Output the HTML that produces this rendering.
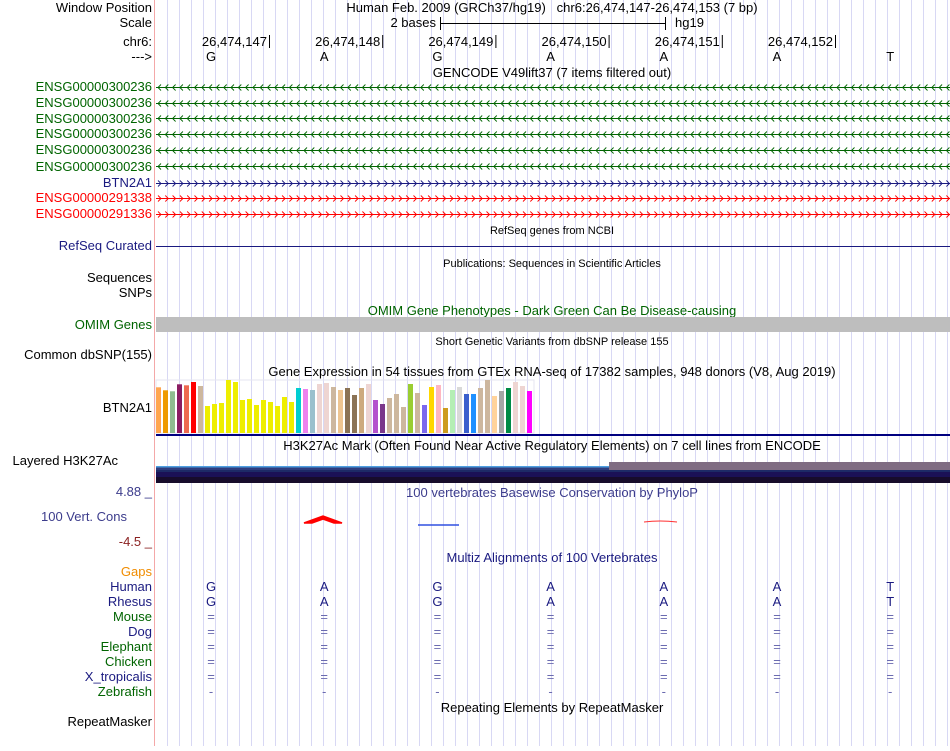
<!DOCTYPE html>
<html><head><meta charset="utf-8">
<style>
body{margin:0;background:#fff;width:950px;height:746px;overflow:hidden}
svg text{font-family:"Liberation Sans",sans-serif}
</style></head>
<body>
<svg id="browser" width="950" height="746" xmlns="http://www.w3.org/2000/svg">
<g id="grid"></g>
<line x1="154.5" y1="0" x2="154.5" y2="746" stroke="#f4a8a8"/>
<g id="labels" font-size="13" text-anchor="end">
<text x="152" y="12" fill="#000">Window Position</text>
<text x="152" y="27" fill="#000">Scale</text>
<text x="152" y="46" fill="#000">chr6:</text>
<text x="152" y="61" fill="#000">---&gt;</text>
<text x="152" y="91" fill="#006400">ENSG00000300236</text>
<text x="152" y="107" fill="#006400">ENSG00000300236</text>
<text x="152" y="123" fill="#006400">ENSG00000300236</text>
<text x="152" y="138" fill="#006400">ENSG00000300236</text>
<text x="152" y="154" fill="#006400">ENSG00000300236</text>
<text x="152" y="171" fill="#006400">ENSG00000300236</text>
<text x="152" y="187" fill="#1a1a80">BTN2A1</text>
<text x="152" y="202" fill="#ff0000">ENSG00000291338</text>
<text x="152" y="218" fill="#ff0000">ENSG00000291336</text>
<text x="152" y="250" fill="#1a1a80">RefSeq Curated</text>
<text x="152" y="282" fill="#000">Sequences</text>
<text x="152" y="297" fill="#000">SNPs</text>
<text x="152" y="329" fill="#006400">OMIM Genes</text>
<text x="152" y="359" fill="#000">Common dbSNP(155)</text>
<text x="152" y="412" fill="#000">BTN2A1</text>
<text x="118" y="465" fill="#000">Layered H3K27Ac</text>
<text x="152" y="496" fill="#3c3c8c">4.88 _</text>
<text x="127" y="521" fill="#3c3c8c">100 Vert. Cons</text>
<text x="152" y="546" fill="#8b2222">-4.5 _</text>
<text x="152" y="576" fill="#f08c00">Gaps</text>
<text x="152" y="591" fill="#1a1a80">Human</text>
<text x="152" y="606" fill="#1a1a80">Rhesus</text>
<text x="152" y="621" fill="#006400">Mouse</text>
<text x="152" y="636" fill="#1a1a80">Dog</text>
<text x="152" y="651" fill="#006400">Elephant</text>
<text x="152" y="666" fill="#006400">Chicken</text>
<text x="152" y="681" fill="#1a1a80">X_tropicalis</text>
<text x="152" y="696" fill="#006400">Zebrafish</text>
<text x="152" y="726" fill="#000">RepeatMasker</text>
</g>
<g font-size="13" fill="#000" text-anchor="middle">
<text x="552" y="12">Human Feb. 2009 (GRCh37/hg19)&#160;&#160;&#160;chr6:26,474,147-26,474,153 (7 bp)</text>
<text x="436" y="27" text-anchor="end">2 bases</text>
<line x1="440" y1="23.5" x2="666" y2="23.5" stroke="#000"/>
<line x1="440.5" y1="17" x2="440.5" y2="30" stroke="#000"/>
<line x1="665.5" y1="17" x2="665.5" y2="30" stroke="#000"/>
<text x="675" y="27" text-anchor="start">hg19</text>
<text x="552" y="77">GENCODE V49lift37 (7 items filtered out)</text>
<text x="552" y="376">Gene Expression in 54 tissues from GTEx RNA-seq of 17382 samples, 948 donors (V8, Aug 2019)</text>
<text x="552" y="450">H3K27Ac Mark (Often Found Near Active Regulatory Elements) on 7 cell lines from ENCODE</text>
<text x="552" y="497" fill="#3c3c8c">100 vertebrates Basewise Conservation by PhyloP</text>
<text x="552" y="562" fill="#1a1a80">Multiz Alignments of 100 Vertebrates</text>
<text x="552" y="712">Repeating Elements by RepeatMasker</text>
<text x="552" y="315" fill="#006400">OMIM Gene Phenotypes - Dark Green Can Be Disease-causing</text>
</g>
<g font-size="11" fill="#000" text-anchor="middle">
<text x="552" y="234">RefSeq genes from NCBI</text>
<text x="552" y="267">Publications: Sequences in Scientific Articles</text>
<text x="552" y="345">Short Genetic Variants from dbSNP release 155</text>
</g>
<g id="ruler"></g>
<g id="genes"></g>
<line x1="156" y1="246.5" x2="950" y2="246.5" stroke="#1a1a80"/>
<rect x="156" y="317" width="794" height="15" fill="#bebebe"/>
<g id="gtex"></g>
<rect x="156" y="434" width="794" height="2" fill="#000080"/>
<g>
<rect x="609" y="462" width="341" height="8" fill="#7f6c82"/>
<rect x="156" y="466" width="453" height="1.5" fill="#4f9fe0"/>
<rect x="156" y="467.5" width="453" height="2.5" fill="#2e3d7e"/>
<rect x="156" y="470" width="794" height="2" fill="#1d2a66"/>
<rect x="156" y="472" width="794" height="5" fill="#1b1156"/>
<rect x="156" y="477" width="794" height="6" fill="#170c2b"/>
</g>
<g>
<path d="M304 523 L323 516 L342 523 L334 523 L323 519 L312 523 Z" fill="#ff0000" stroke="#ff0000" stroke-width="1.5"/>
<line x1="418" y1="525" x2="459" y2="525" stroke="#3050e0" stroke-width="1.5"/>
<path d="M644 522 Q660 520 677 522" fill="none" stroke="#ff3030" stroke-width="1"/>
</g>
<g id="multiz"></g>
</svg>
<script>
const NS="http://www.w3.org/2000/svg";
function mk(tag,attrs,parent){const e=document.createElementNS(NS,tag);for(const k in attrs)e.setAttribute(k,attrs[k]);parent.appendChild(e);return e;}
const grid=document.getElementById('grid');
for(let x=167;x<950;x+=12){const l=mk('line',{x1:x+.5,y1:0,x2:x+.5,y2:746,stroke:'#d8d8f4'},grid);

}
const positions=["26,474,147","26,474,148","26,474,149","26,474,150","26,474,151","26,474,152"];
const bases=["G","A","G","A","A","A","T"];
const ruler=document.getElementById('ruler');
const baseX=i=>211+i*113.2;
positions.forEach((p,i)=>{const tx=269+i*113.2;
const t=mk('text',{x:tx-2,y:46,'font-size':13,'text-anchor':'end'},ruler);t.textContent=p;


const l=mk('line',{x1:tx+.5,y1:35,x2:tx+.5,y2:48,stroke:'#000'},ruler);

});
bases.forEach((b,i)=>{const t=mk('text',{x:baseX(i),y:61,'font-size':13,'text-anchor':'middle'},ruler);t.textContent=b;

});
const genes=document.getElementById('genes');
const geneRows=[[87,'#006400',-1],[103,'#006400',-1],[118,'#006400',-1],[134,'#006400',-1],[150,'#006400',-1],[166,'#006400',-1],[183,'#1a1a80',1],[198,'#ff0000',1],[214,'#ff0000',1]];
geneRows.forEach(([y,c,d])=>{const g=mk('g',{},genes);


mk('line',{x1:156,y1:y+.5,x2:950,y2:y+.5,stroke:c},g);
let p='';for(let x=158;x<948;x+=7.3){ if(d<0)p+=`M${x+3} ${y-2.5} L${x} ${y+.5} L${x+3} ${y+3.5} `; else p+=`M${x} ${y-2.5} L${x+3} ${y+.5} L${x} ${y+3.5} `;}
mk('path',{d:p,stroke:c,fill:'none','stroke-width':0.9},g);});
const gtexValues=[45.7,42.7,41.7,48.7,47.7,51,47,27,29,30,53,51,33,34,28,33,31,27,36,31,45,44,43,49,50,46,43,45,38,45,49,33,29,35,39,26,49,40,28,46,48,25,43,46,39,39,45,53,37,42,45,51,47,42];
const gtexColors=["#FFA54F","#EE9A00","#8FBC8F","#8B1C62","#EE6A50","#FF0000","#CDB79E","#EEEE00","#EEEE00","#EEEE00","#EEEE00","#EEEE00","#EEEE00","#EEEE00","#EEEE00","#EEEE00","#EEEE00","#EEEE00","#EEEE00","#EEEE00","#00CED1","#EE82EE","#9AC0CD","#EED5D2","#EED5D2","#CDB79E","#EEC591","#8B7355","#8B7355","#CDAA7D","#EED5D2","#B452CD","#7A378B","#CDB79E","#CDB79E","#CDB79E","#9ACD32","#CDB79E","#7B68EE","#FFD700","#FFB6C1","#CD9B1D","#B4EEB4","#D9D9D9","#3A5FCD","#1E90FF","#CDB79E","#CDB79E","#FFD39B","#A6A6A6","#008B45","#EED5D2","#EED5D2","#FF00FF"];
const gtex=document.getElementById('gtex');
const gBase=433, gScale=1;
const gx=i=>156+i*7;
mk('rect',{x:156,y:380,width:378,height:53,fill:'none',stroke:'#e6e6f0'},gtex);
gtexValues.forEach((v,i)=>{const r=mk('rect',{x:gx(i),y:gBase-v*gScale,width:5,height:v*gScale,fill:gtexColors[i]},gtex);

});
const mz=document.getElementById('multiz');
const species=[[591,'#1a1a80','letters'],[606,'#1a1a80','letters'],[621,'#6b6bb0','='],[636,'#6b6bb0','='],[651,'#6b6bb0','='],[666,'#6b6bb0','='],[681,'#6b6bb0','='],[696,'#6b6bb0','-']];
species.forEach(([y,c,s])=>{bases.forEach((b,i)=>{const t=mk('text',{x:baseX(i),y:y,'font-size':13,'text-anchor':'middle',fill:c},mz);
t.textContent=s==='letters'?b:s;

});});
</script>
</body></html>
